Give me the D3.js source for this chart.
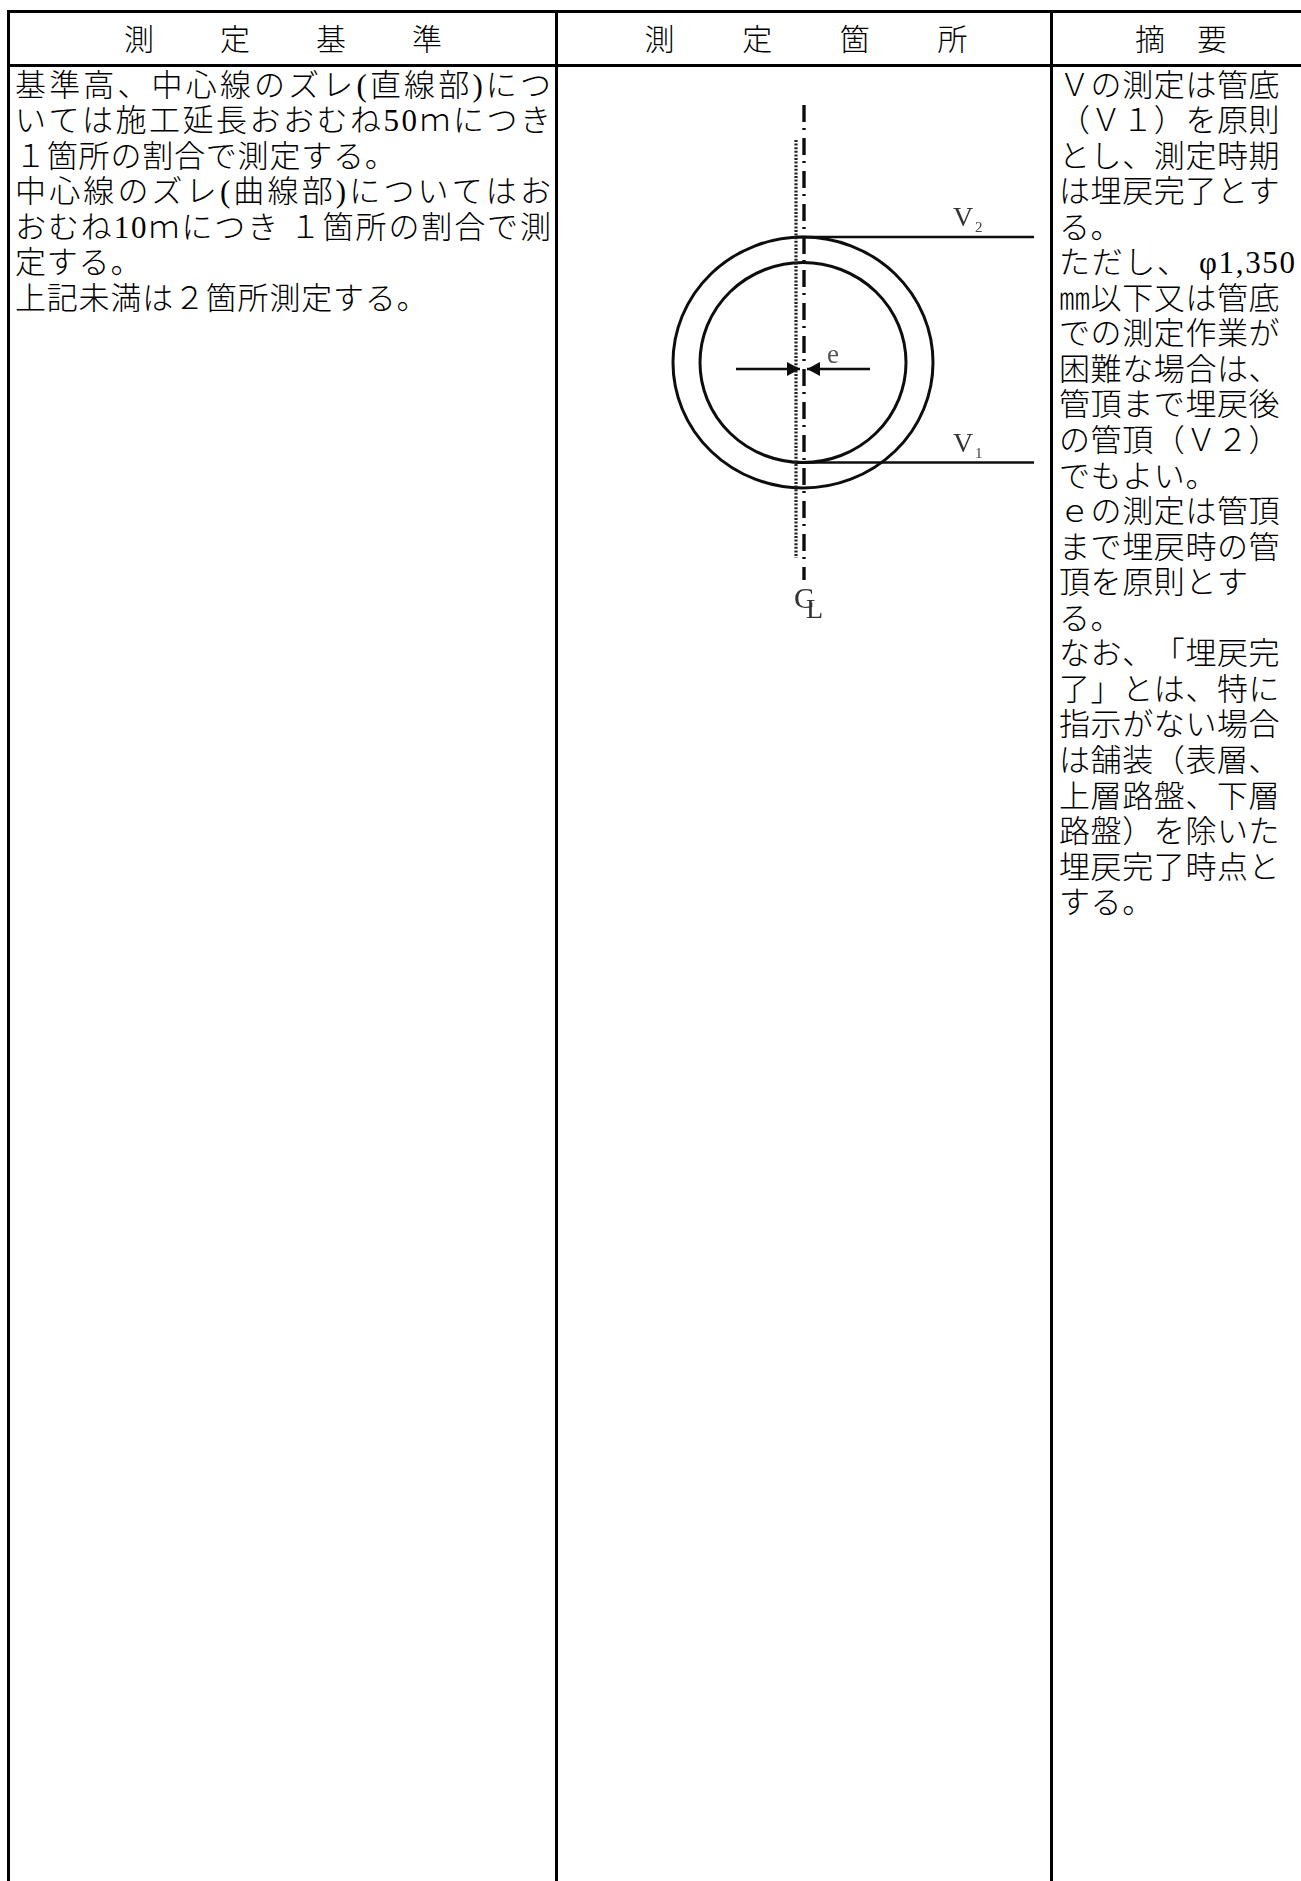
<!DOCTYPE html>
<html lang="ja">
<head>
<meta charset="utf-8">
<script src="https://cdn.jsdelivr.net/npm/d3@7"></script>
<style>
  html, body { margin: 0; background: #fff; }
  svg { display: block; }
  text {
    font-family: "Liberation Serif", "Noto Sans CJK JP", serif;
    fill: #000;
    font-weight: 300;
    text-spacing-trim: space-all;
    font-kerning: none;
  }
</style>
</head>
<body>
<script>
const headerLeft = ['測', '定', '基', '準'];
const headerMiddle = ['測', '定', '箇', '所'];
const headerRight = ['摘', '要'];

const standardLines = [
  '基準高、中心線のズレ(直線部)につ',
  'いては施工延長おおむね50ｍにつき',
  '１箇所の割合で測定する。',
  '中心線のズレ(曲線部)についてはお',
  'おむね10ｍにつき １箇所の割合で測',
  '定する。',
  '上記未満は２箇所測定する。',
];
const standardJustified = [0, 1, 3, 4];

const remarkLines = [
  'Ｖの測定は管底',
  '（Ｖ１）を原則',
  'とし、測定時期',
  'は埋戻完了とす',
  'る。',
  'ただし、 φ1,350',
  '㎜以下又は管底',
  'での測定作業が',
  '困難な場合は、',
  '管頂まで埋戻後',
  'の管頂（Ｖ２）',
  'でもよい。',
  'ｅの測定は管頂',
  'まで埋戻時の管',
  '頂を原則とす',
  'る。',
  'なお、「埋戻完',
  '了」とは、特に',
  '指示がない場合',
  'は舗装（表層、',
  '上層路盤、下層',
  '路盤）を除いた',
  '埋戻完了時点と',
  'する。',
];
const remarkJustified = [5];

// pipe section, in pixels of the drawing
const pipeRings = [{rx: 130, ry: 125.5}, {rx: 103, ry: 100}];
const levelLabels = [
  {name: 'V', sub: '2', ring: 0, side: -1},
  {name: 'V', sub: '1', ring: 1, side: 1},
];

const width = 1301, height = 1881;
const rowY = d3.scaleLinear().domain([0, 1]).range([95.5, 131.05]);
const cx = 804, cy = 362.5;

const svg = d3.select('body').append('svg')
  .attr('width', width)
  .attr('height', height);

svg.append('defs').append('filter')
  .attr('id', 'soft')
  .append('feGaussianBlur')
  .attr('stdDeviation', 0.45);

// table rules
const rules = [
  [8.5, 11.5, width, 11.5],
  [8.5, 65.5, width, 65.5],
  [8.5, 11.5, 8.5, height],
  [556.5, 11.5, 556.5, height],
  [1051.5, 11.5, 1051.5, height],
];
svg.append('g').selectAll('line')
  .data(rules)
  .join('line')
  .attr('x1', d => d[0])
  .attr('y1', d => d[1])
  .attr('x2', d => d[2])
  .attr('y2', d => d[3])
  .attr('stroke', '#000')
  .attr('stroke-width', 3)
  .attr('stroke-linecap', 'square');

// header cells
function header(chars, center, gap) {
  const x = d3.scalePoint().domain(chars).range([center - gap * (chars.length - 1) / 2, center + gap * (chars.length - 1) / 2]);
  svg.append('g').selectAll('text')
    .data(chars)
    .join('text')
    .attr('x', d => x(d))
    .attr('y', 50)
    .attr('text-anchor', 'middle')
    .attr('font-size', 30)
    .text(d => d);
}
header(headerLeft, 283, 96);
header(headerMiddle, 806, 97.6);
header(headerRight, 1181, 62);

// body text
function paragraph(lines, x, spacing, fullWidth, justified) {
  svg.append('g').selectAll('text')
    .data(lines)
    .join('text')
    .attr('x', x)
    .attr('y', (d, i) => rowY(i))
    .attr('font-size', 31)
    .attr('letter-spacing', (d, i) => justified.includes(i) ? null : spacing)
    .attr('textLength', (d, i) => justified.includes(i) ? fullWidth : null)
    .attr('lengthAdjust', 'spacing')
    .text(d => d);
}
paragraph(standardLines, 15, 0.8, 536, standardJustified);
paragraph(remarkLines, 1059, 0.6, 236, remarkJustified);

// pipe drawing
const drawing = svg.append('g').attr('filter', 'url(#soft)');

drawing.selectAll('ellipse')
  .data(pipeRings)
  .join('ellipse')
  .attr('cx', cx - 1)
  .attr('cy', cy)
  .attr('rx', d => d.rx)
  .attr('ry', d => d.ry)
  .attr('fill', 'none')
  .attr('stroke', '#111')
  .attr('stroke-width', 3);

// center line, dash-dot
drawing.append('line')
  .attr('x1', cx).attr('x2', cx)
  .attr('y1', 105).attr('y2', 580)
  .attr('stroke', '#111')
  .attr('stroke-width', 3.4)
  .attr('stroke-dasharray', '17 6 2 8');

// dotted line beside it
drawing.append('line')
  .attr('x1', cx - 8).attr('x2', cx - 8)
  .attr('y1', 140).attr('y2', 558)
  .attr('stroke', '#222')
  .attr('stroke-width', 3.2)
  .attr('stroke-dasharray', '2 1.6');

// level leaders
drawing.selectAll('line.level')
  .data(levelLabels)
  .join('line')
  .attr('class', 'level')
  .attr('x1', cx - 8)
  .attr('x2', 1034)
  .attr('y1', d => cy + d.side * pipeRings[d.ring].ry)
  .attr('y2', d => cy + d.side * pipeRings[d.ring].ry)
  .attr('stroke', '#111')
  .attr('stroke-width', 2.4);

const labelY = d => cy + d.side * pipeRings[d.ring].ry - 11;
drawing.selectAll('text.level')
  .data(levelLabels)
  .join('text')
  .attr('class', 'level')
  .attr('x', 953)
  .attr('y', labelY)
  .attr('font-size', 28)
  .style('fill', '#333')
  .text(d => d.name);
drawing.selectAll('text.levelSub')
  .data(levelLabels)
  .join('text')
  .attr('class', 'levelSub')
  .attr('x', 975)
  .attr('y', d => labelY(d) + 6)
  .attr('font-size', 15)
  .style('fill', '#444')
  .text(d => d.sub);

// thickness arrows
const arrows = [
  {from: 736, to: 800},
  {from: 870, to: 807},
];
const arrowY = 369;
drawing.selectAll('line.arrow')
  .data(arrows)
  .join('line')
  .attr('class', 'arrow')
  .attr('x1', d => d.from)
  .attr('x2', d => d.to)
  .attr('y1', arrowY)
  .attr('y2', arrowY)
  .attr('stroke', '#111')
  .attr('stroke-width', 2.6);
drawing.selectAll('path.arrow')
  .data(arrows)
  .join('path')
  .attr('class', 'arrow')
  .attr('d', d => {
    const back = d.to + Math.sign(d.from - d.to) * 13;
    return d3.line()([[d.to, arrowY], [back, arrowY - 7], [back, arrowY + 7]]) + 'Z';
  })
  .attr('fill', '#111');

drawing.append('text')
  .attr('x', 827).attr('y', 363)
  .attr('font-size', 27)
  .style('fill', '#555')
  .text('e');

// CL mark, the two letters overlap on purpose
const clMark = drawing.append('text').style('fill', '#333');
clMark.append('tspan')
  .attr('x', 794).attr('y', 608)
  .attr('font-size', 30)
  .text('C');
clMark.append('tspan')
  .attr('x', 806).attr('y', 618)
  .attr('font-size', 28)
  .text('L');
</script>
</body>
</html>
